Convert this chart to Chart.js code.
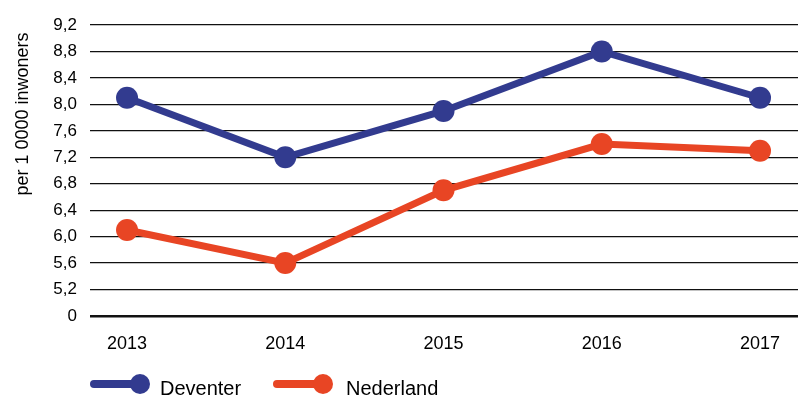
<!DOCTYPE html>
<html>
<head>
<meta charset="utf-8">
<script src="https://cdn.jsdelivr.net/npm/chart.js@4/dist/chart.umd.min.js"></script>
<style>
  html, body { margin: 0; padding: 0; background: #fff; }
  #wrap { width: 798px; height: 396px; }
</style>
</head>
<body>
<div id="wrap"><canvas id="c" width="798" height="396"></canvas></div>
<script>
// Years on the horizontal axis
const years = [2013, 2014, 2015, 2016, 2017];

// Rate per 10 000 inhabitants
const deventer  = [8.1, 7.2, 7.9, 8.8, 8.1];
const nederland = [6.1, 5.6, 6.7, 7.4, 7.3];

// Vertical axis: the lowest tick marks the axis break and reads "0"
const yTickValues = [4.8, 5.2, 5.6, 6.0, 6.4, 6.8, 7.2, 7.6, 8.0, 8.4, 8.8, 9.2];
const yTickLabels = ['0', '5,2', '5,6', '6,0', '6,4', '6,8', '7,2', '7,6', '8,0', '8,4', '8,8', '9,2'];

const seriesNames = ['Deventer', 'Nederland'];
const BLUE = '#323b8f';
const ORANGE = '#e84524';
const FONT = "'Liberation Sans', Arial, Helvetica, sans-serif";

function toPoints(values) {
  return years.map((y, i) => ({ x: y, y: values[i] }));
}

// Rotated unit label on the left
const yTitlePlugin = {
  id: 'yTitle',
  afterDraw(chart) {
    const ctx = chart.ctx;
    ctx.save();
    ctx.translate(23, 114);
    ctx.rotate(-Math.PI / 2);
    ctx.font = '18px ' + FONT;
    ctx.fillStyle = '#000';
    ctx.textAlign = 'center';
    ctx.textBaseline = 'middle';
    ctx.fillText('per 1 0000 inwoners', 0, 0);
    ctx.restore();
  }
};

// Legend: a thick line ending in a dot, followed by the series name
const legendPlugin = {
  id: 'lineDotLegend',
  afterDraw(chart) {
    const ctx = chart.ctx;
    const items = [
      { x0: 90, x1: 140, tx: 160 },
      { x0: 273, x1: 323, tx: 346 }
    ];
    const cy = 384;
    ctx.save();
    chart.data.datasets.forEach((ds, i) => {
      const it = items[i];
      ctx.strokeStyle = ds.borderColor;
      ctx.lineWidth = 8;
      ctx.lineCap = 'round';
      ctx.beginPath();
      ctx.moveTo(it.x0 + 4, cy);
      ctx.lineTo(it.x1, cy);
      ctx.stroke();
      ctx.fillStyle = ds.borderColor;
      ctx.beginPath();
      ctx.arc(it.x1, cy, 10, 0, Math.PI * 2);
      ctx.fill();
      ctx.fillStyle = '#000';
      ctx.font = '20px ' + FONT;
      ctx.textAlign = 'left';
      ctx.textBaseline = 'alphabetic';
      ctx.fillText(ds.label, it.tx, 395);
    });
    ctx.restore();
  }
};

new Chart(document.getElementById('c'), {
  type: 'line',
  data: {
    datasets: [
      {
        label: seriesNames[0],
        data: toPoints(deventer),
        borderColor: BLUE,
        backgroundColor: BLUE,
        pointBackgroundColor: BLUE,
        borderWidth: 7,
        pointRadius: 11,
        pointBorderWidth: 0,
        tension: 0
      },
      {
        label: seriesNames[1],
        data: toPoints(nederland),
        borderColor: ORANGE,
        backgroundColor: ORANGE,
        pointBackgroundColor: ORANGE,
        borderWidth: 7,
        pointRadius: 11,
        pointBorderWidth: 0,
        tension: 0
      }
    ]
  },
  options: {
    responsive: false,
    devicePixelRatio: 1,
    animation: false,
    layout: { autoPadding: false, padding: { left: 0, right: 0, top: 25, bottom: 0 } },
    plugins: {
      legend: { display: false },
      tooltip: { enabled: false }
    },
    scales: {
      x: {
        type: 'linear',
        min: 2012.766,
        max: 2017.24,
        afterBuildTicks(scale) {
          scale.ticks = years.map(v => ({ value: v }));
        },
        afterFit(scale) {
          scale.height = 80;
          scale.paddingLeft = 0;
          scale.paddingRight = 0;
        },
        grid: { display: false, drawTicks: false },
        border: { display: false },
        ticks: {
          padding: 17,
          color: '#000',
          font: { family: FONT, size: 18 },
          callback: v => String(v),
          maxRotation: 0
        }
      },
      y: {
        type: 'linear',
        min: yTickValues[0],
        max: yTickValues[yTickValues.length - 1],
        afterBuildTicks(scale) {
          scale.ticks = yTickValues.map(v => ({ value: v }));
        },
        afterFit(scale) {
          scale.width = 90;
          scale.paddingTop = 0;
          scale.paddingBottom = 0;
        },
        grid: {
          color: '#111',
          drawTicks: false,
          lineWidth: ctx => (ctx.tick && ctx.tick.value === yTickValues[0]) ? 2.5 : 1.3
        },
        border: { display: false },
        ticks: {
          padding: 13,
          color: '#000',
          font: { family: FONT, size: 17 },
          callback: (v, i) => yTickLabels[i]
        }
      }
    }
  },
  plugins: [yTitlePlugin, legendPlugin]
});
</script>
</body>
</html>
